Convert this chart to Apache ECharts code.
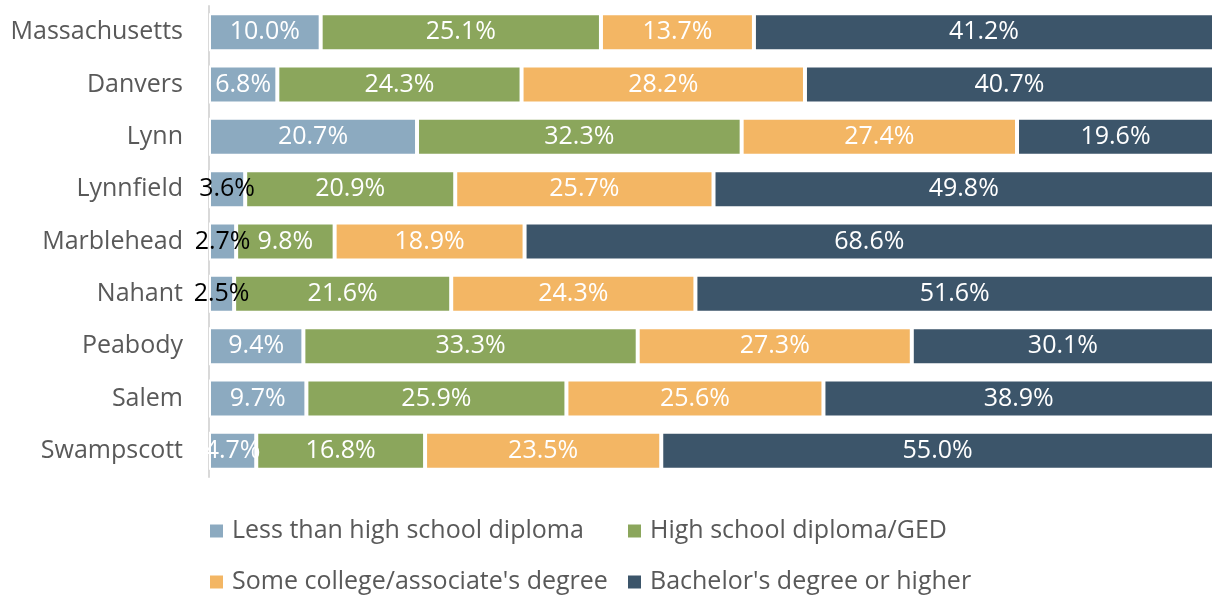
<!DOCTYPE html>
<html>
<head>
<meta charset="utf-8">
<style>
  html, body { margin: 0; padding: 0; background: #ffffff; }
  #chart { width: 1214px; height: 596px; }
</style>
<script src="https://cdn.jsdelivr.net/npm/echarts@6/dist/echarts.min.js"></script>
</head>
<body>
<div id="chart"></div>
<script>
// Educational attainment by community (percent of adults 25+)
const towns = ['Massachusetts', 'Danvers', 'Lynn', 'Lynnfield', 'Marblehead', 'Nahant', 'Peabody', 'Salem', 'Swampscott'];
const lessThanHS   = [10.0, 6.8, 20.7, 3.6, 2.7, 2.5, 9.4, 9.7, 4.7];
const hsDiplomaGED = [25.1, 24.3, 32.3, 20.9, 9.8, 21.6, 33.3, 25.9, 16.8];
const someCollege  = [13.7, 28.2, 27.4, 25.7, 18.9, 24.3, 27.3, 25.6, 23.5];
const bachelorsUp  = [41.2, 40.7, 19.6, 49.8, 68.6, 51.6, 30.1, 38.9, 55.0];
const seriesNames = ['Less than high school diploma', 'High school diploma/GED', "Some college/associate's degree", "Bachelor's degree or higher"];
const seriesColors = ['#8caac0', '#8ba65c', '#f3b664', '#3c556a'];

const groups = [lessThanHS, hsDiplomaGED, someCollege, bachelorsUp];
// 100% stacked: each bar is the share of its row total, labels show the stated value
const rowTotals = towns.map((_, i) => groups.reduce((s, g) => s + g[i], 0));

const FONT = '"Open Sans", "Noto Sans", sans-serif';

const series = groups.map((vals, k) => ({
  name: seriesNames[k],
  type: 'bar',
  stack: 'total',
  barWidth: 38,
  itemStyle: { color: seriesColors[k], borderColor: '#ffffff', borderWidth: 2 },
  data: vals.map((v, i) => ({
    value: v / rowTotals[i] * 100,
    raw: v,
    label: { color: v < 4 ? '#000000' : '#ffffff' }
  })),
  label: {
    show: true,
    position: 'inside',
    fontFamily: FONT,
    fontSize: 25,
    formatter: p => p.data.raw.toFixed(1) + '%'
  },
  emphasis: { disabled: true }
}));

const legendBase = {
  left: 210,
  padding: 0,
  icon: 'rect',
  itemWidth: 13,
  itemHeight: 13,
  itemGap: 10,
  selectedMode: false,
  itemStyle: { borderWidth: 0 },
  textStyle: {
    fontFamily: FONT,
    fontSize: 25,
    color: '#595959',
    width: 386,
    lineHeight: 30,
    padding: [0, 0, 0, 4]
  }
};

const chart = echarts.init(document.getElementById('chart'), null, { renderer: 'canvas' });
chart.setOption({
  animation: false,
  grid: { left: 209, right: 0, top: 6, bottom: 119, containLabel: false },
  xAxis: {
    type: 'value',
    min: 0,
    max: 100,
    show: false
  },
  yAxis: {
    type: 'category',
    data: towns,
    inverse: true,
    axisLine: { show: true, lineStyle: { color: '#d9d9d9', width: 2 } },
    axisTick: { show: false },
    axisLabel: { fontFamily: FONT, fontSize: 25, color: '#595959', margin: 26 }
  },
  legend: [
    Object.assign({}, legendBase, { top: 516, data: seriesNames.slice(0, 2) }),
    Object.assign({}, legendBase, { top: 567, data: seriesNames.slice(2, 4) })
  ],
  series: series
});
</script>
</body>
</html>
